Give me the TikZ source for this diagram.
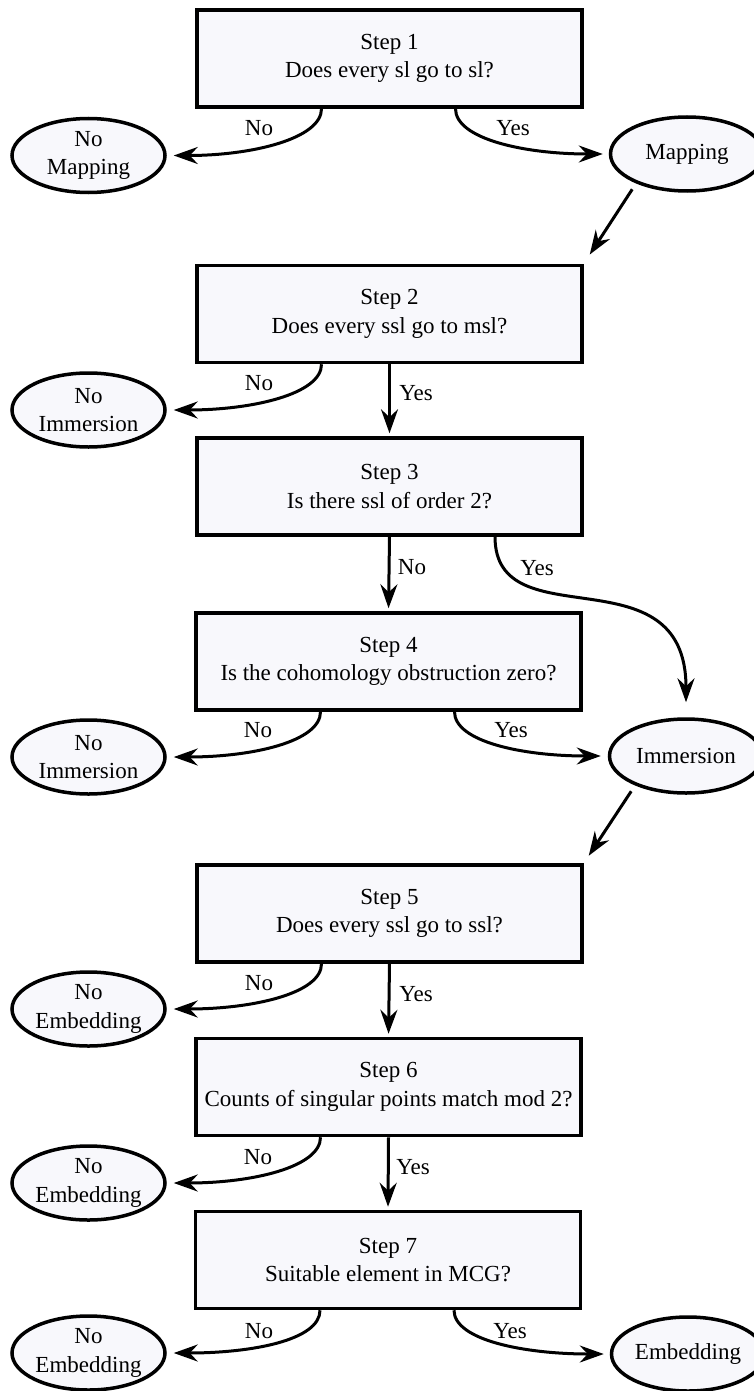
\documentclass[tikz,border=0pt]{standalone}
\usepackage{fontspec}
\setmainfont{Liberation Serif}
\usetikzlibrary{shapes.geometric,arrows.meta}
\definecolor{boxfill}{RGB}{248,248,252}
\begin{document}
\begin{tikzpicture}[x=1pt,y=-1pt,
  every node/.style={font=\fontsize{23}{28.5}\selectfont, text=black},
  stepbox/.style={draw=black, line width=3.5pt, fill=boxfill, minimum width=385pt, minimum height=97pt, inner sep=0pt, align=center},
  endpoint/.style={ellipse, draw=black, line width=3.5pt, fill=boxfill, minimum width=153pt, minimum height=74pt, inner sep=0pt, align=center},
  arr/.style={line width=3pt, -{Stealth[length=24pt,width=17pt,inset=8pt]}},
  lbl/.style={inner sep=0pt}
]
\useasboundingbox (0,0) rectangle (754,1391);
% boxes
\node[stepbox] (b1) at (389.5,58.5) {Step 1\\Does every sl go to sl?};
\node[stepbox] (b2) at (389.5,314) {Step 2\\Does every ssl go to msl?};
\node[stepbox] (b3) at (389.5,486.5) {Step 3\\Is there ssl of order 2?};
\node[stepbox] (b4) at (388.5,661.5) {Step 4\\Is the cohomology obstruction zero?};
\node[stepbox] (b5) at (389.5,913.5) {Step 5\\Does every ssl go to ssl?};
\node[stepbox] (b6) at (388.5,1087) {Step 6\\Counts of singular points match mod 2?};
\node[stepbox] (b7) at (388,1260) {Step 7\\Suitable element in MCG?};
% ellipses
\node[endpoint] (nm1) at (88.5,155.5) {No\\Mapping};
\node[endpoint] (map) at (687,154) {Mapping};
\node[endpoint] (ni1) at (88.5,410) {No\\Immersion};
\node[endpoint] (ni2) at (88.5,757) {No\\Immersion};
\node[endpoint] (imm) at (686,756) {Immersion};
\node[endpoint] (ne1) at (88.5,1009) {No\\Embedding};
\node[endpoint] (ne2) at (88.5,1183) {No\\Embedding};
\node[endpoint] (ne3) at (88.5,1353) {No\\Embedding};
\node[endpoint] (emb) at (688,1354) {Embedding};
% left "No" arrows
\draw[arr, shorten >=7pt] ([xshift=-68pt]b1.south) .. controls +(0,30) and +(85,0) .. (nm1.east);
\draw[arr, shorten >=7pt] ([xshift=-68pt]b2.south) .. controls +(0,30) and +(85,0) .. (ni1.east);
\draw[arr, shorten >=7pt] ([xshift=-68pt]b4.south) .. controls +(0,30) and +(85,0) .. (ni2.east);
\draw[arr, shorten >=7pt] ([xshift=-68pt]b5.south) .. controls +(0,30) and +(85,0) .. (ne1.east);
\draw[arr, shorten >=7pt] ([xshift=-68pt]b6.south) .. controls +(0,30) and +(85,0) .. (ne2.east);
\draw[arr, shorten >=7pt] ([xshift=-68pt]b7.south) .. controls +(0,30) and +(85,0) .. (ne3.east);
% right "Yes" arrows
\draw[arr, shorten >=6pt] ([xshift=66pt]b1.south) .. controls +(0,30) and +(-85,0) .. (map.west);
\draw[arr, shorten >=7pt] ([xshift=66pt]b4.south) .. controls +(0,30) and +(-85,0) .. (imm.west);
\draw[arr, shorten >=6pt] ([xshift=66pt]b7.south) .. controls +(0,30) and +(-85,0) .. (emb.west);
% straight down arrows
\draw[arr, shorten >=3pt] (b2.south) -- (b3.north);
\draw[arr, shorten >=3pt] (b3.south) -- (b4.north);
\draw[arr, shorten >=3pt] (b5.south) -- (b6.north);
\draw[arr, shorten >=3pt] (b6.south) -- (b7.north);
% diagonal arrows
\draw[arr, shorten <=7pt, shorten >=11pt] (map.210) -- (b2.north east);
\draw[arr, shorten <=7pt, shorten >=9pt] (imm.210) -- (b5.north east);
% S-curve
\draw[arr, shorten >=15pt] ([xshift=105.5pt]b3.south) .. controls +(0,105) and +(0,-169) .. (imm.north);
% labels
\node[lbl] (l1n) at (259,128) {No};
\node[lbl] (l1y) at (513,128) {Yes};
\node[lbl] (l2n) at (259,383) {No};
\node[lbl] (l2y) at (416,393) {Yes};
\node[lbl] (l3n) at (412,567) {No};
\node[lbl] (l3y) at (537,568) {Yes};
\node[lbl] (l4n) at (258,730) {No};
\node[lbl] (l4y) at (511,730) {Yes};
\node[lbl] (l5n) at (259,983) {No};
\node[lbl] (l5y) at (416,994) {Yes};
\node[lbl] (l6n) at (258,1157) {No};
\node[lbl] (l6y) at (413,1167) {Yes};
\node[lbl] (l7n) at (259,1331) {No};
\node[lbl] (l7y) at (510,1331) {Yes};
\end{tikzpicture}
\end{document}
